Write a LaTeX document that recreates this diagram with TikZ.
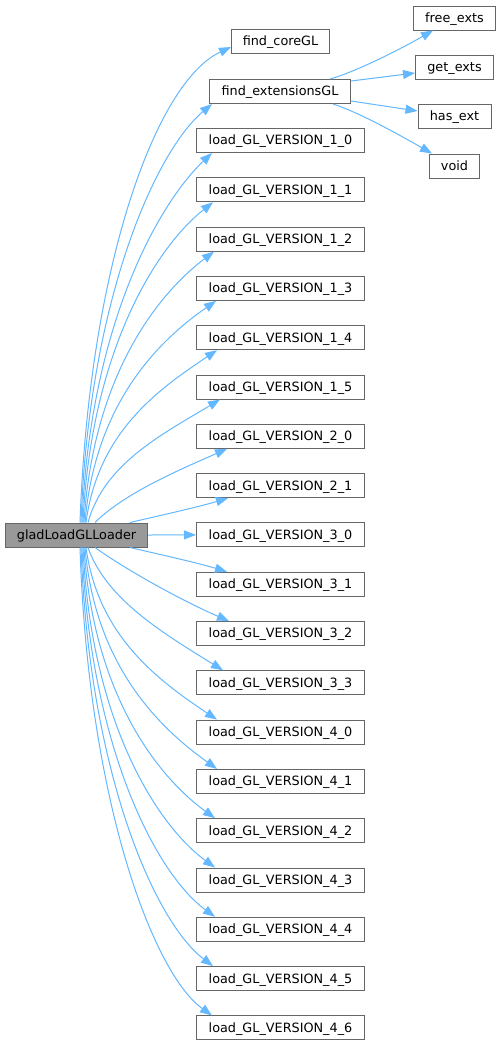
\documentclass[tikz,border=0pt]{standalone}
\usepackage{fontspec}
\setmainfont{DejaVu Sans}
\usetikzlibrary{arrows.meta}
\definecolor{edgeblue}{HTML}{63B8FF}
\definecolor{boxgray}{HTML}{666666}
\definecolor{mainfill}{HTML}{999999}
\tikzset{
  box/.style={draw=boxgray, line width=1pt, fill=white, minimum height=24pt,
    inner sep=0pt, font=\fontsize{12.8}{15}\selectfont, text=black,
    text height=9.3pt, text depth=0.5pt, anchor=center},
  edge/.style={draw=edgeblue, line width=1pt, -{Triangle[length=12pt,width=9pt]}}
}
\begin{document}
\begin{tikzpicture}[x=1pt,y=1pt]
\useasboundingbox (0,0) rectangle (501,-1047);
\fill[white] (0,0) rectangle (501,-1047);
% nodes
\node[box, fill=mainfill, minimum width=142pt] (glad) at (76.5,-535) {gladLoadGLLoader};
\node[box, minimum width=98pt] (core) at (280.5,-41.5) {find\_coreGL};
\node[box, minimum width=141pt] (ext) at (280,-91.5) {find\_extensionsGL};
\foreach \n/\lab [count=\k from 0] in {v10/1\_0,v11/1\_1,v12/1\_2,v13/1\_3,v14/1\_4,v15/1\_5,v20/2\_0,v21/2\_1,v30/3\_0,v31/3\_1,v32/3\_2,v33/3\_3,v40/4\_0,v41/4\_1,v42/4\_2,v43/4\_3,v44/4\_4,v45/4\_5,v46/4\_6}
  \node[box, minimum width=168pt] (\n) at (280.5,{-140.5-49.3*\k}) {load\_GL\_VERSION\_\lab};
\node[box, minimum width=82pt] (free) at (454.5,-18) {free\_exts};
\node[box, minimum width=78pt] (get) at (454.5,-67) {get\_exts};
\node[box, minimum width=73pt] (has) at (454.5,-116.5) {has\_ext};
\node[box, minimum width=50pt] (void) at (454.5,-166) {void};
% upper edges
\draw[edge] ([xshift=3.5pt]glad.north) .. controls +(9,257) and +(-75,-35) .. ([yshift=-5.5pt]core.west);
\draw[edge] ([xshift=4.5pt]glad.north) .. controls +(8,226) and +(-55,-46) .. ([xshift=3pt]ext.south west);
\draw[edge] ([xshift=5.5pt]glad.north) .. controls +(8,200) and +(-52,-49) .. ([xshift=16pt]v10.south west);
\draw[edge] ([xshift=6.5pt]glad.north) .. controls +(8,173) and +(-56,-44) .. ([xshift=17pt]v11.south west);
\draw[edge] ([xshift=7.5pt]glad.north) .. controls +(9,146) and +(-57,-43) .. ([xshift=18pt]v12.south west);
\draw[edge] ([xshift=8.5pt]glad.north) .. controls +(10,118) and +(-59,-41) .. ([xshift=20pt]v13.south west);
\draw[edge] ([xshift=9.5pt]glad.north) .. controls +(12,90) and +(-60,-40) .. ([xshift=21pt]v14.south west);
\draw[edge] ([xshift=11.5pt]glad.north) .. controls +(16,58) and +(-60,-36) .. ([xshift=24pt]v15.south west);
\draw[edge] ([xshift=18.5pt]glad.north) .. controls +(30,30) and +(-45,-20) .. ([xshift=31pt]v20.south west);
\draw[edge] ([xshift=53.5pt]glad.north) .. controls +(30,7) and +(-30,-9) .. ([xshift=32pt]v21.south west);
% middle
\draw[edge] (glad.east) -- (v30.west);
% lower edges
\draw[edge] ([xshift=53.5pt]glad.south) .. controls +(30,-7) and +(-30,9) .. ([xshift=31pt]v31.north west);
\draw[edge] ([xshift=18.5pt]glad.south) .. controls +(35,-25) and +(-42,18) .. ([xshift=33pt]v32.north west);
\draw[edge] ([xshift=11.5pt]glad.south) .. controls +(18,-52) and +(-58,36) .. ([xshift=27pt]v33.north west);
\draw[edge] ([xshift=9.5pt]glad.south) .. controls +(12,-88) and +(-60,40) .. ([xshift=21pt]v40.north west);
\draw[edge] ([xshift=8.5pt]glad.south) .. controls +(10,-117) and +(-59,42) .. ([xshift=21pt]v41.north west);
\draw[edge] ([xshift=7.5pt]glad.south) .. controls +(9,-146) and +(-58,42) .. ([xshift=19pt]v42.north west);
\draw[edge] ([xshift=6.5pt]glad.south) .. controls +(8,-173) and +(-59,43) .. ([xshift=19pt]v43.north west);
\draw[edge] ([xshift=5.5pt]glad.south) .. controls +(8,-199) and +(-59,43) .. ([xshift=19pt]v44.north west);
\draw[edge] ([xshift=4.5pt]glad.south) .. controls +(8,-226) and +(-58,44) .. ([xshift=17pt]v45.north west);
\draw[edge] ([xshift=3.5pt]glad.south) .. controls +(8,-253) and +(-59,42) .. ([xshift=16pt]v46.north west);
% right side edges
\draw[edge] ([xshift=50pt]ext.north) .. controls +(25,7) and +(-35,-20) .. ([xshift=-21.5pt]free.south);
\draw[edge] ([yshift=10.5pt]ext.east) -- ([yshift=-6pt]get.west);
\draw[edge] ([yshift=-9.5pt]ext.east) -- ([yshift=5.5pt]has.west);
\draw[edge] ([xshift=53pt]ext.south) .. controls +(25,-8) and +(-35,20) .. ([xshift=-22.5pt]void.north);
\end{tikzpicture}
\end{document}
